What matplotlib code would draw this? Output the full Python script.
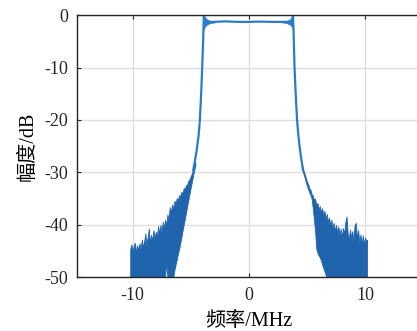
import numpy as np
import matplotlib
matplotlib.use("Agg")
import matplotlib.pyplot as plt

plt.rcParams['font.family'] = ['Liberation Serif', 'Noto Sans CJK SC']
plt.rcParams['axes.unicode_minus'] = False

# clean part: transitions and passband (MHz, dB)
main_f = [-4.79, -4.65, -4.50, -4.32, -4.21, -4.10, -4.01, -3.93, -3.87, -3.80, -3.50,
          -3.00, -2.00, -1.00, 0.00, 1.00, 2.00, 3.00, 3.50, 3.72, 3.80, 3.87, 3.93,
          4.03, 4.15, 4.26, 4.42, 4.55, 4.67]
main_db = [-29.6, -28.0, -26.0, -23.0, -20.0, -15.0, -10.0, -5.0, 0.0, -1.2, -1.3,
           -1.3, -1.2, -1.3, -1.3, -1.25, -1.3, -1.3, -1.3, -1.3, 0.0, -5.0, -10.0,
           -15.0, -20.0, -23.0, -26.0, -28.0, -29.6]

# ripple "ears" at the band edges
earL_f = [-3.87, -3.80, -3.70, -3.60, -3.45, -3.30, -3.10, -2.90]
earR_f = [3.80, 3.73, 3.63, 3.53, 3.38, 3.23, 3.03, 2.83]
ear_hi = [0.0, -0.3, -0.6, -0.8, -1.0, -1.1, -1.15, -1.2]
ear_lo = [-2.8, -2.3, -2.0, -1.8, -1.65, -1.5, -1.45, -1.4]

# noisy skirts, upper / lower envelope
left_f = [-10.2, -10.1, -10.0, -9.9, -9.8, -9.7, -9.6, -9.5, -9.4, -9.3, -9.2, -9.1,
          -9.0, -8.9, -8.8, -8.7, -8.6, -8.5, -8.4, -8.3, -8.2, -8.1, -8.0, -7.9,
          -7.8, -7.7, -7.6, -7.5, -7.4, -7.3, -7.2, -7.1, -7.0, -6.9, -6.8, -6.7,
          -6.6, -6.5, -6.4, -6.3, -6.2, -6.1, -6.0, -5.9, -5.8, -5.7, -5.6, -5.5,
          -5.4, -5.3, -5.2, -5.1, -5.0, -4.9, -4.8, -4.7, -4.6]
left_hi = [-44.6, -43.7, -45.1, -44.0, -43.4, -45.2, -43.9, -44.8, -43.5, -44.5, -42.8, -44.3,
           -43.1, -41.6, -43.9, -42.3, -40.7, -43.5, -41.9, -43.0, -41.0, -42.6, -41.3, -42.2,
           -40.2, -41.8, -40.0, -41.4, -39.4, -40.7, -39.0, -40.1, -38.0, -38.9, -36.6, -37.7,
           -36.1, -36.9, -35.4, -35.9, -34.9, -35.3, -34.3, -34.6, -33.7, -33.9, -33.0, -33.1,
           -32.4, -32.3, -31.6, -31.3, -30.7, -30.2, -29.6, -28.8, -28.0]
left_lo = [-50, -50, -50, -50, -50, -50, -50, -50, -50, -50, -50, -50,
           -50, -50, -50, -50, -50, -50, -50, -50, -50, -50, -50, -50,
           -50, -50, -50, -50, -50, -50, -50, -47.0, -50, -50, -50, -50,
           -50, -50, -48.6, -47.6, -46.6, -45.5, -44.6, -43.5, -42.4, -41.1, -39.9, -38.8,
           -37.6, -36.4, -35.2, -34.1, -32.9, -31.8, -30.7, -29.6, -28.6]

right_f = [4.5, 4.6, 4.7, 4.8, 4.9, 5.0, 5.1, 5.2, 5.3, 5.4, 5.5, 5.6,
           5.7, 5.8, 5.9, 6.0, 6.1, 6.2, 6.3, 6.4, 6.5, 6.6, 6.7, 6.8,
           6.9, 7.0, 7.1, 7.2, 7.3, 7.4, 7.5, 7.6, 7.7, 7.8, 7.9, 8.0,
           8.1, 8.2, 8.3, 8.4, 8.5, 8.6, 8.7, 8.8, 8.9, 9.0, 9.1, 9.2,
           9.3, 9.4, 9.5, 9.6, 9.7, 9.8, 9.9, 10.0, 10.1, 10.17]
right_hi = [-27.9, -28.8, -29.6, -30.3, -31.0, -31.8, -32.2, -33.0, -33.3, -34.1, -34.4, -35.2,
            -35.0, -36.3, -35.8, -37.0, -36.4, -37.6, -36.8, -38.2, -37.3, -38.9, -37.9, -39.4,
            -38.6, -40.2, -39.0, -40.6, -39.6, -41.2, -40.0, -41.5, -40.3, -41.9, -40.7, -42.3,
            -40.6, -41.8, -39.5, -38.4, -41.6, -42.8, -40.9, -42.4, -41.2, -42.9, -40.0, -39.6,
            -42.6, -41.0, -43.3, -41.8, -43.6, -42.0, -43.8, -42.4, -43.2, -42.8]
right_lo = [-28.4, -29.4, -30.3, -31.0, -31.8, -32.6, -33.2, -33.8, -34.3, -35.0, -36.8, -38.9,
            -41.2, -44.5, -45.3, -45.8, -46.2, -46.7, -47.5, -48.2, -48.8, -49.5, -50, -50,
            -50, -50, -50, -50, -50, -50, -50, -50, -50, -50, -50, -50,
            -50, -50, -50, -50, -50, -50, -50, -50, -50, -50, -50, -50,
            -50, -50, -50, -50, -50, -50, -50, -50, -50, -50]

xticks = [-10, 0, 10]
yticks = [0, -10, -20, -30, -40, -50]

blue = '#1f64ad'
line_blue = '#2b7cc4'

fig = plt.figure(figsize=(4.17, 3.31), dpi=100)
ax = fig.add_axes([0.184, 0.162, 0.8254, 0.7925])

ax.fill_between(left_f, left_lo, left_hi, color=blue, lw=0.6, edgecolor=blue)
ax.fill_between(right_f, right_lo, right_hi, color=blue, lw=0.6, edgecolor=blue)
ax.fill_between(earL_f, ear_lo, ear_hi, color=line_blue, lw=0.5, edgecolor=line_blue)
ax.fill_between(earR_f, ear_lo, ear_hi, color=line_blue, lw=0.5, edgecolor=line_blue)
ax.plot(main_f, main_db, color=line_blue, lw=1.6)

ax.set_xlim(-14.8, 14.8)
ax.set_ylim(-50, 0)
ax.set_xticks(xticks)
ax.set_yticks(yticks)
ax.grid(True, color='#dedede', lw=1.0)
ax.set_axisbelow(True)
ax.tick_params(direction='in', length=3, width=0.8, top=True, right=True,
               labelsize=13, colors='#262626', pad=7)
ax.tick_params(axis='y', pad=6)
for s in ax.spines.values():
    s.set_color('#262626')
    s.set_linewidth(1.0)

ax.set_xlabel('频率/MHz', fontsize=14.5, labelpad=6)
ax.set_ylabel('幅度/dB', fontsize=14.5, labelpad=5)

fig.savefig('out.png', dpi=100)
